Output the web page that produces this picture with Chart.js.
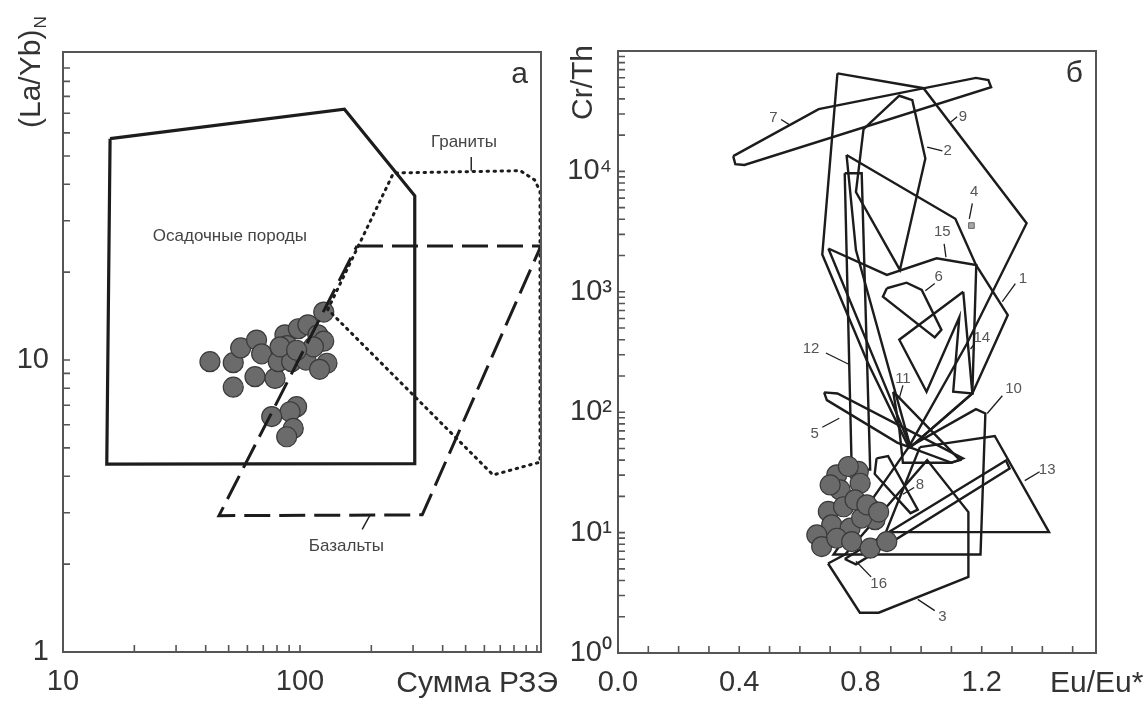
<!DOCTYPE html>
<html>
<head>
<meta charset="utf-8">
<script src="https://cdn.jsdelivr.net/npm/chart.js@4.4.0/dist/chart.umd.min.js"></script>
<style>
  body { margin: 0; background: #fff; width: 1147px; height: 702px; overflow: hidden; position: relative; }
  canvas { position: absolute; top: 0; }
  #chartA { left: 0; }
  #chartB { left: 555px; }
</style>
</head>
<body>
<canvas id="chartA" width="570" height="702"></canvas>
<canvas id="chartB" width="592" height="702"></canvas>
<script>
// ---- panel а : (La/Yb)N vs sum of REE ----
const reeSum = [41.7, 52.3, 56.2, 65.6, 68.9, 64.6, 52.3, 78.5, 81.0, 86.4, 88.4, 92.2, 98.4, 108,
                106, 119, 126, 126, 130, 121, 96.8, 90.8, 76.0, 93.7, 87.9, 114, 82.4, 96.8];
const laYb   = [9.87, 9.79, 11.0, 11.7, 10.5, 8.77, 8.07, 8.65, 9.87, 12.2, 11.2, 9.87, 12.8, 13.2,
                10.0, 12.2, 11.6, 14.6, 9.75, 9.29, 6.92, 6.65, 6.40, 5.83, 5.46, 11.1, 11.1, 10.8];

const sedimentField = [[15.8, 57.3], [154, 72.3], [305, 36.5], [305, 4.42], [15.3, 4.40]];
const graniteField  = [[131, 14.9], [248, 43.7], [851, 44.5], [977, 41.4], [1030, 37.9], [1030, 4.47], [653, 4.04]];
const basaltField   = [[174, 24.6], [1040, 24.6], [328, 2.95], [45.5, 2.93]];

const rockNames = ['Осадочные породы', 'Граниты', 'Базальты'];
const rockNameX = [50.6, 492, 157];
const rockNameY = [26.5, 55.8, 2.3];
const rockLeaders = [[[528, 49.6], [528, 44.5]], [[183, 2.63], [197, 2.93]]];

const reeTickLabels = [10, 100];
const laYbTickLabels = [1, 10];

// ---- panel б : Cr/Th vs Eu/Eu* ----
const euEu = [0.722, 0.793, 0.799, 0.733, 0.694, 0.744, 0.837, 0.848, 0.705, 0.766, 0.804,
              0.656, 0.672, 0.722, 0.771, 0.832, 0.887, 0.760, 0.700, 0.782, 0.821, 0.860];
const crTh = [30.2, 32.2, 25.7, 22.6, 15.0, 16.4, 15.4, 12.8, 11.6, 10.9, 13.2,
              9.57, 7.66, 8.98, 8.42, 7.42, 8.42, 35.4, 24.9, 18.7, 17.0, 14.8];

const field1  = [[0.754, 13700], [1.113, 4040], [1.181, 1670], [1.286, 641], [1.169, 143], [0.965, 51.3], [0.785, 2220]];
const field2  = [[0.810, 22400], [0.928, 42500], [0.971, 39000], [1.014, 12800], [0.930, 1520], [0.785, 6740]];
const field3  = [[0.693, 5.54], [0.798, 2.16], [0.860, 2.16], [1.156, 4.29], [1.156, 14.8], [1.020, 40], [0.750, 6.6]];
const field4  = [[1.166, 3550]];
const field5  = [[0.680, 146], [0.724, 143], [1.138, 41.4], [1.101, 38.0], [0.921, 55.9], [0.689, 126]];
const field6  = [[0.887, 1070], [0.952, 1190], [1.002, 1035], [1.067, 483], [1.045, 418], [0.874, 910]];
const field7  = [[0.380, 13400], [0.387, 11500], [0.417, 11300], [1.231, 50000], [1.222, 57300], [1.181, 59800], [0.662, 32900]];
const field8  = [[0.853, 41.4], [0.891, 43.2], [0.989, 15.5], [0.965, 14.5], [0.847, 30.7]];
const field9  = [[0.724, 65200], [1.008, 49100], [1.348, 3710], [1.150, 367], [0.959, 51.3], [0.823, 261], [0.674, 2040]];
const field10 = [[0.959, 51.3], [1.181, 106], [1.212, 97.5], [1.196, 6.58], [0.711, 6.58]];
const field11 = [[0.908, 148], [1.128, 40.0], [1.095, 38.0], [0.940, 38.0], [0.928, 72.3]];
const field12 = [[0.748, 9660], [0.804, 9660], [0.832, 33.4], [0.771, 33.4]];
const field13 = [[0.996, 51.3], [1.243, 63.5], [1.422, 10.1], [0.884, 10.1]];
const field14 = [[1.139, 1000], [1.169, 143], [1.106, 148], [1.126, 614], [1.018, 148], [0.928, 400]];
const field15 = [[0.694, 2290], [0.887, 1380], [1.051, 1900], [1.182, 1670], [1.169, 143], [0.965, 51.3]];
const field16 = [[0.748, 6.04], [1.280, 39.7], [1.292, 34.0], [0.785, 5.45]];
const fields = [field1, field2, field3, field5, field6, field7, field8, field9, field10,
                field11, field12, field13, field14, field15, field16];

const fieldNames = ['7', '9', '2', '4', '15', '6', '1', '14', '12', '11', '10', '5', '13', '8', '16', '3'];
const fieldNameX = [0.513, 1.138, 1.088, 1.175, 1.070, 1.058, 1.336, 1.200, 0.637, 0.940, 1.305, 0.649, 1.416, 0.996, 0.860, 1.070];
const fieldNameY = [27700, 28400, 14800, 6740, 3120, 1330, 1270, 418, 337, 188, 156, 66.3, 33.4, 24.8, 3.77, 1.98];
const fieldLeaders = [
  [[0.538, 27000], [0.569, 24100]], [[1.119, 28400], [1.095, 25400]], [[1.070, 14800], [1.020, 15900]],
  [[1.169, 5420], [1.159, 4040]], [[1.076, 2500], [1.082, 1940]], [[1.045, 1170], [1.014, 1020]],
  [[1.311, 1170], [1.268, 828]], [[1.175, 367], [1.163, 335]], [[0.686, 310], [0.761, 250]],
  [[0.940, 167], [0.928, 131]], [[1.268, 137], [1.218, 97.5]], [[0.674, 75], [0.730, 89]],
  [[1.391, 32], [1.342, 27]], [[0.977, 23.7], [0.940, 20.8]], [[0.835, 4.29], [0.785, 5.78]],
  [[1.045, 2.25], [0.989, 2.79]]
];

const euTickLabels = [0, 0.4, 0.8, 1.2];
const crThTickLabels = [1, 10, 100, 1000, 10000];

// ---- helpers ----
const FONT = "'Liberation Sans', Arial, sans-serif";
const INK = '#1c1c1c';
const toXY = pts => pts.map(([x, y]) => ({ x, y }));
const closed = pts => toXY(pts.concat([pts[0]]));
const zip = (xs, ys) => xs.map((x, i) => ({ x, y: ys[i] }));

function logSteps(min, max) {
  const out = [];
  for (let d = Math.floor(Math.log10(min)); d <= Math.ceil(Math.log10(max)); d++) {
    for (let m = 1; m < 10; m++) {
      const v = m * Math.pow(10, d);
      if (v >= min * 0.999 && v <= max) out.push(v);
    }
  }
  return out;
}

function lineSet(pts, width, dash, cap) {
  return {
    data: pts, showLine: true, pointRadius: 0, borderColor: INK, borderWidth: width,
    borderDash: dash || [], borderCapStyle: cap || 'butt', borderJoinStyle: 'miter', fill: false, tension: 0
  };
}

const dotSet = (data) => ({
  data, pointRadius: 10, pointHoverRadius: 10, backgroundColor: '#6b6b6b',
  borderColor: '#3a3a3a', borderWidth: 1.2, showLine: false
});

// frame, inward ticks and texts
function framePlugin(cfg) {
  return {
    id: 'frame',
    afterDatasetsDraw(chart) {
      const { ctx, chartArea: a, scales: { x, y } } = chart;
      ctx.save();
      ctx.strokeStyle = '#555';
      ctx.lineWidth = 2;
      ctx.strokeRect(a.left, a.top, a.right - a.left, a.bottom - a.top);
      ctx.lineWidth = 1.6;
      ctx.beginPath();
      cfg.xMinor.forEach(v => { const p = x.getPixelForValue(v); ctx.moveTo(p, a.bottom); ctx.lineTo(p, a.bottom - 7); });
      cfg.yMinor.forEach(v => { const p = y.getPixelForValue(v); ctx.moveTo(a.left, p); ctx.lineTo(a.left + 7, p); });
      ctx.stroke();

      // notes placed at data values
      ctx.fillStyle = cfg.noteColor;
      ctx.font = cfg.noteSize + 'px ' + FONT;
      ctx.textAlign = 'center';
      ctx.textBaseline = 'middle';
      cfg.notes.forEach(n => ctx.fillText(n.text, x.getPixelForValue(n.x), y.getPixelForValue(n.y)));

      // panel letter
      ctx.fillStyle = '#333';
      ctx.font = '30px ' + FONT;
      ctx.textAlign = 'right';
      ctx.textBaseline = 'alphabetic';
      ctx.fillText(cfg.letter, a.right - 13, a.top + 31);

      // x title on the tick row
      ctx.textAlign = cfg.xTitleAlign;
      ctx.fillText(cfg.xTitle, cfg.xTitlePos, 692);

      // rotated y title
      ctx.translate(cfg.yTitlePos[0], cfg.yTitlePos[1]);
      ctx.rotate(-Math.PI / 2);
      ctx.textAlign = 'left';
      ctx.fillText(cfg.yTitle, 0, 0);
      if (cfg.yTitleSub) {
        const w = ctx.measureText(cfg.yTitle).width;
        ctx.font = '17px ' + FONT;
        ctx.fillText(cfg.yTitleSub, w + 1, 6);
      }
      ctx.restore();
    }
  };
}

const tickFont = { family: FONT, size: 29 };

// ---- chart а ----
const setsA = [
  lineSet(closed(sedimentField), 3.2),
  lineSet(closed(graniteField), 3, [1.5, 5.5], 'round'),
  lineSet(closed(basaltField), 3, [26, 9]),
  ...rockLeaders.map(l => lineSet(toXY(l), 1.4)),
  dotSet(zip(reeSum, laYb))
];

new Chart(document.getElementById('chartA'), {
  type: 'scatter',
  data: { datasets: setsA },
  options: {
    responsive: false, animation: false, events: [],
    layout: { padding: { top: 52, right: 29, left: 0, bottom: 0 } },
    plugins: { legend: { display: false }, tooltip: { enabled: false } },
    scales: {
      x: {
        type: 'logarithmic', min: 10, max: 1040, bounds: 'data',
        grid: { display: false, drawTicks: false }, border: { display: false },
        afterBuildTicks: s => { s.ticks = reeTickLabels.map(v => ({ value: v })); },
        afterFit: s => { s.height = 50; },
        ticks: { autoSkip: false, maxRotation: 0, padding: 13, color: '#333', font: tickFont, callback: v => String(v) }
      },
      y: {
        type: 'logarithmic', min: 1, max: 113.5, bounds: 'data',
        grid: { display: false, drawTicks: false }, border: { display: false },
        afterBuildTicks: s => { s.ticks = laYbTickLabels.map(v => ({ value: v })); },
        afterFit: s => { s.width = 63; },
        ticks: { autoSkip: false, padding: 14, color: '#333', font: tickFont, callback: v => String(v) }
      }
    }
  },
  plugins: [framePlugin({
    xMinor: logSteps(10, 1040), yMinor: logSteps(1, 113.5),
    notes: rockNames.map((t, i) => ({ text: t, x: rockNameX[i], y: rockNameY[i] })),
    noteSize: 17, noteColor: '#444', letter: 'а',
    xTitle: 'Сумма РЗЭ', xTitleAlign: 'right', xTitlePos: 558,
    yTitle: '(La/Yb)', yTitleSub: 'N', yTitlePos: [40, 128]
  })]
});

// ---- chart б ----
const sup = { 0: '⁰', 1: '¹', 2: '²', 3: '³', 4: '⁴' };
const setsB = [
  dotSet(zip(euEu, crTh)),
  { data: toXY(field4), pointStyle: 'rect', pointRadius: 4, backgroundColor: '#a8a8a8', borderColor: '#666', borderWidth: 1, showLine: false },
  ...fields.map(f => lineSet(closed(f), 2.4)),
  ...fieldLeaders.map(l => lineSet(toXY(l), 1.3))
];

new Chart(document.getElementById('chartB'), {
  type: 'scatter',
  data: { datasets: setsB },
  options: {
    responsive: false, animation: false, events: [],
    layout: { padding: { top: 51, right: 51, left: 0, bottom: 0 } },
    plugins: { legend: { display: false }, tooltip: { enabled: false } },
    scales: {
      x: {
        type: 'linear', min: 0, max: 1.577, bounds: 'data',
        grid: { display: false, drawTicks: false }, border: { display: false },
        afterBuildTicks: s => { s.ticks = euTickLabels.map(v => ({ value: v })); },
        afterFit: s => { s.height = 49; },
        ticks: { autoSkip: false, maxRotation: 0, padding: 13, color: '#333', font: tickFont, callback: v => v.toFixed(1) }
      },
      y: {
        type: 'logarithmic', min: 1, max: 100000, bounds: 'data',
        grid: { display: false, drawTicks: false }, border: { display: false },
        afterBuildTicks: s => { s.ticks = crThTickLabels.map(v => ({ value: v })); },
        afterFit: s => { s.width = 63; },
        ticks: { autoSkip: false, padding: 6, color: '#333', font: tickFont, callback: v => '10' + sup[Math.round(Math.log10(v))] }
      }
    }
  },
  plugins: [framePlugin({
    xMinor: Array.from({ length: 16 }, (_, i) => i / 10), yMinor: logSteps(1, 100000),
    notes: fieldNames.map((t, i) => ({ text: t, x: fieldNameX[i], y: fieldNameY[i] })),
    noteSize: 15, noteColor: '#555', letter: 'б',
    xTitle: 'Eu/Eu*', xTitleAlign: 'left', xTitlePos: 495,
    yTitle: 'Cr/Th', yTitlePos: [37, 120]
  })]
});
</script>
</body>
</html>
